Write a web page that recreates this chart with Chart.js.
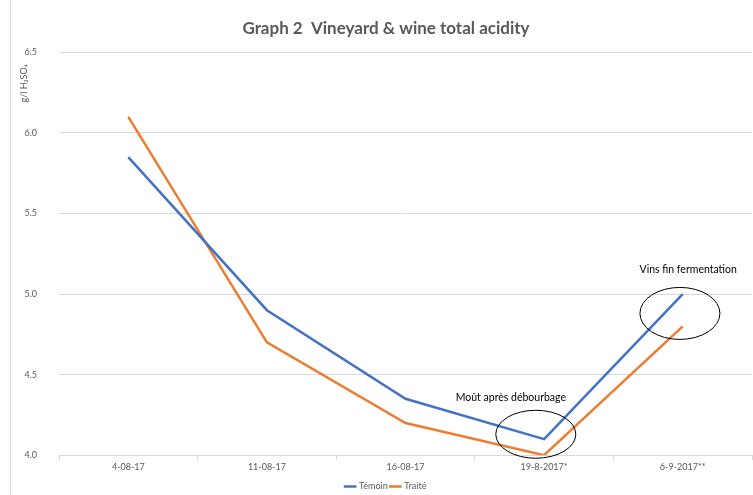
<!DOCTYPE html>
<html>
<head>
<meta charset="utf-8">
<script src="https://cdn.jsdelivr.net/npm/chart.js@4/dist/chart.umd.min.js"></script>
<style>
    html, body { margin: 0; padding: 0; background: #ffffff; }
    #wrap { width: 753px; height: 495px; position: relative; }
</style>
</head>
<body>
<div id="wrap"><canvas id="graphAcidity"></canvas></div>
<script>
var dates = ['4-08-17', '11-08-17', '16-08-17', '19-8-2017*', '6-9-2017**'];
var temoin = [5.85, 4.9, 4.35, 4.1, 5.0];
var traite = [6.1, 4.7, 4.2, 4.0, 4.8];
var yTicks = [4.0, 4.5, 5.0, 5.5, 6.0, 6.5];
var yTitle = 'g/l H₂SO₄';

// notes: [category index, value, text]
var notes = [
    [2.76, 4.36, 'Moût après débourbage'],
    [4.04, 5.15, 'Vins fin fermentation']
];
// circles round the points: [category index, value, rx, ry]
var circles = [
    [2.94, 4.13, 40, 24],
    [3.98, 4.88, 40, 26]
];

var notesPlugin = {
    id: 'notes',
    beforeDraw: function(chart) {
        var ctx = chart.ctx;
        ctx.save();
        ctx.strokeStyle = '#d9d9d9';
        ctx.lineWidth = 1;
        ctx.beginPath();
        ctx.moveTo(10.5, 0);
        ctx.lineTo(10.5, chart.height);
        ctx.stroke();
        // y axis title, near the top like in the original
        ctx.translate(24, chart.chartArea.top + 31);
        ctx.rotate(-Math.PI / 2);
        ctx.fillStyle = '#595959';
        ctx.font = '9px Lato';
        ctx.textAlign = 'center';
        ctx.textBaseline = 'middle';
        ctx.fillText(yTitle, 0, 0);
        ctx.restore();
    },
    afterDatasetsDraw: function(chart) {
        var ctx = chart.ctx;
        var xs = chart.scales.x;
        var ys = chart.scales.y;
        var step = xs.getPixelForValue(1) - xs.getPixelForValue(0);
        ctx.save();
        ctx.strokeStyle = '#000000';
        ctx.lineWidth = 1;
        for (var i in circles) {
            var c = circles[i];
            var cx = xs.getPixelForValue(0) + c[0] * step;
            var cy = ys.getPixelForValue(c[1]);
            ctx.beginPath();
            ctx.ellipse(cx, cy, c[2], c[3], 0, 0, Math.PI * 2);
            ctx.stroke();
        }
        ctx.fillStyle = '#000000';
        ctx.font = '10.5px Lato';
        ctx.textAlign = 'center';
        ctx.textBaseline = 'middle';
        for (var j in notes) {
            var n = notes[j];
            var tx = xs.getPixelForValue(0) + n[0] * step;
            var ty = ys.getPixelForValue(n[1]);
            ctx.fillText(n[2], tx, ty);
        }
        ctx.restore();
    }
};

var chartdata = {
    labels: dates,
    datasets: [{
        label: 'Témoin',
        borderColor: '#4472C4',
        backgroundColor: '#4472C4',
        borderWidth: 2.5,
        pointRadius: 0,
        tension: 0,
        data: temoin
    }, {
        label: 'Traité',
        borderColor: '#ED7D31',
        backgroundColor: '#ED7D31',
        borderWidth: 2.5,
        pointRadius: 0,
        tension: 0,
        data: traite
    }]
};

var graphTarget = document.getElementById('graphAcidity');

var lineGraph = new Chart(graphTarget, {
    type: 'line',
    data: chartdata,
    plugins: [notesPlugin],
    options: {
        responsive: true,
        maintainAspectRatio: false,
        animation: false,
        layout: { padding: { left: 20, right: 1, top: 0, bottom: -6 } },
        plugins: {
            title: {
                display: true,
                text: 'Graph 2  Vineyard & wine total acidity',
                color: '#595959',
                font: { family: 'Lato', size: 17, weight: 'bold' },
                padding: { top: 18, bottom: 14 }
            },
            legend: {
                position: 'bottom',
                labels: {
                    usePointStyle: true,
                    pointStyle: 'line',
                    boxWidth: 18,
                    color: '#595959',
                    font: { family: 'Lato', size: 9 },
                    padding: 3
                }
            },
            tooltip: { enabled: false }
        },
        scales: {
            x: {
                offset: true,
                afterFit: function(scale) { scale.height += 6; },
                grid: {
                    offset: true,
                    drawOnChartArea: false,
                    tickLength: 5,
                    color: '#d9d9d9'
                },
                border: { color: '#d9d9d9' },
                ticks: {
                    color: '#595959',
                    font: { family: 'Lato', size: 9 },
                    padding: 1,
                    maxRotation: 0
                }
            },
            y: {
                min: 4.0,
                max: 6.5,
                afterFit: function(scale) { scale.width = 39; },
                afterBuildTicks: function(scale) {
                    scale.ticks = yTicks.map(function(v) { return { value: v }; });
                },
                grid: { color: '#d9d9d9', drawTicks: false },
                border: { display: false },
                ticks: {
                    color: '#595959',
                    font: { family: 'Lato', size: 9 },
                    padding: 22,
                    callback: function(v) { return v.toFixed(1); }
                }
            }
        }
    }
});
</script>
</body>
</html>
